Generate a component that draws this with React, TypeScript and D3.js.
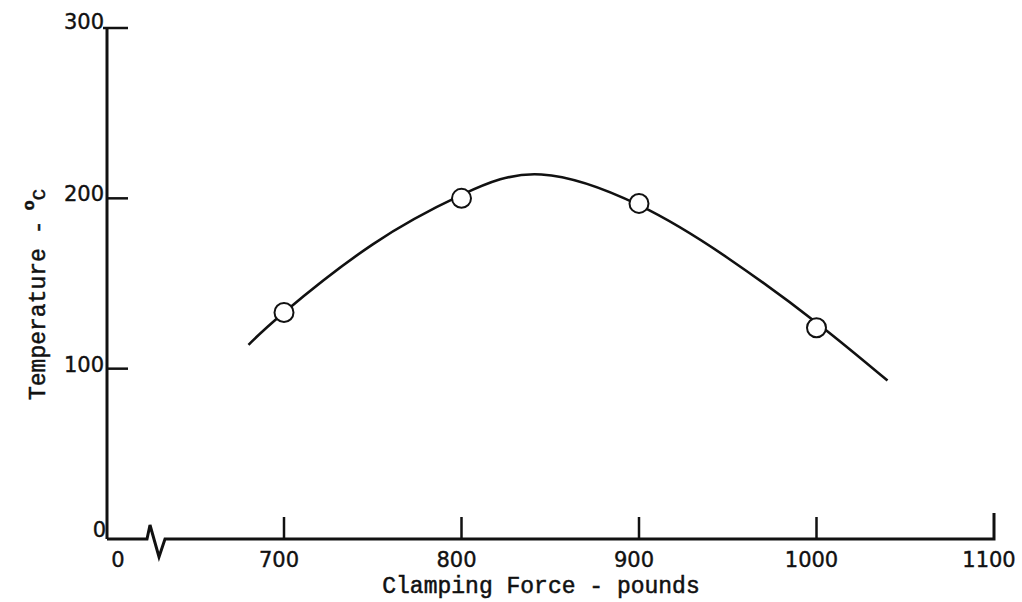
import React from "react";
import * as d3 from "d3";

// Measured temperatures at each clamping force
const forceLbs = [700, 800, 900, 1000];
const tempC = [133, 200, 197, 124];

// Hand-faired curve through the measurements
const curveForce = [680, 700, 750, 800, 845, 900, 950, 1000, 1040];
const curveTemp = [114, 133, 173, 202, 214, 196, 165, 127, 93];

// Axis ticks
const xTicks = [700, 800, 900, 1000, 1100];
const yTicks = [100, 200, 300];

const W = 1022;
const H = 602;
const INK = "#111";
const NUM_FONT = "'DejaVu Sans', sans-serif";
const TYPE_FONT = "'Liberation Mono', 'DejaVu Sans Mono', monospace";

export default function App() {
  const x = d3.scaleLinear().domain([700, 1100]).range([284, 994]);
  const y = d3.scaleLinear().domain([0, 300]).range([539, 28]);

  const axisX = 107; // left vertical axis, stands for force = 0
  const y0 = y(0);
  const yTop = y(300);

  const line = d3
    .line<number>()
    .x((_, i) => x(curveForce[i]))
    .y((d) => y(d))
    .curve(d3.curveNatural);

  // x axis with a break between 0 and the scaled range
  const brk = 147;
  const xAxisPath = d3.path();
  xAxisPath.moveTo(axisX, y0);
  xAxisPath.lineTo(brk, y0);
  xAxisPath.lineTo(brk + 3, y0 - 14);
  xAxisPath.lineTo(brk + 12, y0 + 18);
  xAxisPath.lineTo(brk + 18, y0);
  xAxisPath.lineTo(x(1100), y0);
  xAxisPath.lineTo(x(1100), y0 - 26);

  const numStyle = { stroke: INK, strokeWidth: 0.4 };
  const typeStyle = { stroke: INK, strokeWidth: 0.5 };

  return (
    <svg
      width={W}
      height={H}
      viewBox={`0 0 ${W} ${H}`}
      style={{ position: "absolute", left: 0, top: 0, background: "#fff" }}
    >
      <rect width={W} height={H} fill="#fff" />

      {/* y axis */}
      <line x1={axisX} y1={yTop} x2={axisX} y2={y0} stroke={INK} strokeWidth={3} />
      {yTicks.map((t) => (
        <g key={`yt${t}`}>
          <line
            x1={t === 300 ? axisX - 4 : axisX}
            x2={axisX + 21}
            y1={y(t)}
            y2={y(t)}
            stroke={INK}
            strokeWidth={2.5}
          />
          <text
            x={axisX - 3}
            y={y(t) + (t === 300 ? 1 : 3)}
            textAnchor="end"
            fontFamily={NUM_FONT}
            fontSize={21}
            fill={INK}
            style={numStyle}
          >
            {t}
          </text>
        </g>
      ))}
      <text x={axisX - 1} y={y0 - 2} textAnchor="end" fontFamily={NUM_FONT} fontSize={21} fill={INK} style={numStyle}>
        0
      </text>

      {/* x axis */}
      <path d={xAxisPath.toString()} fill="none" stroke={INK} strokeWidth={3} strokeLinejoin="miter" />
      {xTicks.slice(0, -1).map((t) => (
        <line key={`xt${t}`} x1={x(t)} x2={x(t)} y1={y0} y2={y0 - 22} stroke={INK} strokeWidth={2.5} />
      ))}
      {xTicks.map((t) => (
        <text
          key={`xl${t}`}
          x={x(t) - 5}
          y={y0 + 28}
          textAnchor="middle"
          fontFamily={NUM_FONT}
          fontSize={21}
          fill={INK}
          style={numStyle}
        >
          {t}
        </text>
      ))}
      <text x={axisX + 11} y={y0 + 28} textAnchor="middle" fontFamily={NUM_FONT} fontSize={21} fill={INK} style={numStyle}>
        0
      </text>

      {/* fitted curve and measured points */}
      <path d={line(curveTemp) ?? ""} fill="none" stroke={INK} strokeWidth={2.6} />
      {forceLbs.map((f, i) => (
        <circle key={`p${f}`} cx={x(f)} cy={y(tempC[i])} r={9.5} fill="#fff" stroke={INK} strokeWidth={2} />
      ))}

      {/* axis titles */}
      <text x={541} y={593} textAnchor="middle" fontFamily={TYPE_FONT} fontSize={23} fill={INK} style={typeStyle}>
        Clamping Force - pounds
      </text>
      <text
        transform="translate(45,400) rotate(-90)"
        fontFamily={TYPE_FONT}
        fontSize={23}
        fill={INK}
        style={typeStyle}
      >
        Temperature -
        <tspan dx={10} dy={-11} fontSize={17} fontWeight="bold">o</tspan>
        <tspan dy={11} fontSize={19}>C</tspan>
      </text>
    </svg>
  );
}
